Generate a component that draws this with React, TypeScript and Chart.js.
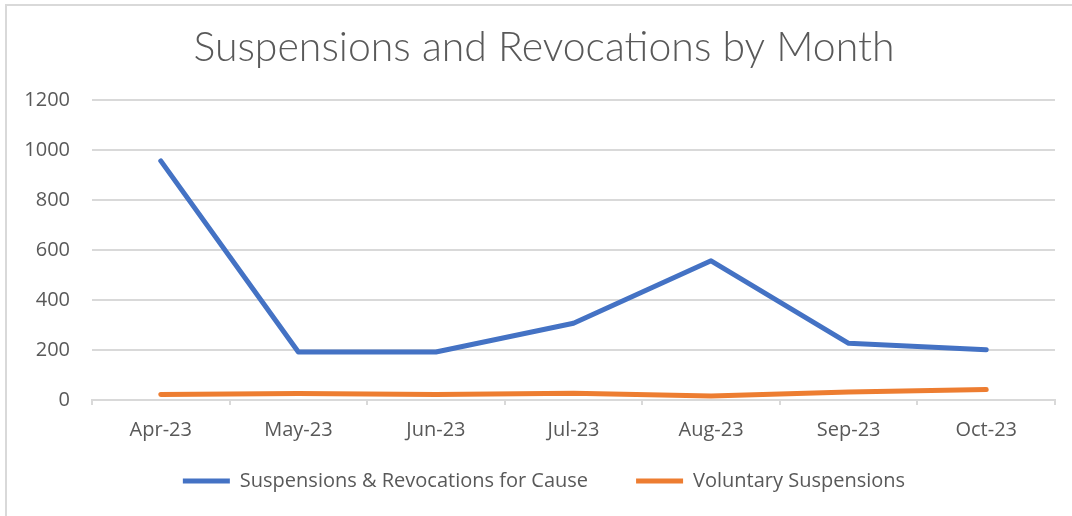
import React, { useEffect, useRef } from "react";
import { Chart, registerables } from "chart.js";

Chart.register(...registerables);

const titleText = "Suspensions and Revocations by Month";
const months = ["Apr-23", "May-23", "Jun-23", "Jul-23", "Aug-23", "Sep-23", "Oct-23"];
const forCauseLabel = "Suspensions & Revocations for Cause";
const forCause = [957, 192, 192, 307, 557, 227, 201];
const voluntaryLabel = "Voluntary Suspensions";
const voluntary = [22, 26, 22, 27, 16, 32, 42];
const yMin = 0;
const yMax = 1200;
const yStep = 200;

const TEXT = "#595959";
const GRID = "#d9d9d9";

// Widen the tick-label clip regions after layout so labels are not cut off.
const unclipLabels = {
  id: "unclipLabels",
  afterLayout(chart: any) {
    const y = chart.scales.y;
    const x = chart.scales.x;
    if (y) y.left = 0;
    if (x) x.bottom = x.top + 60;
  },
};

export default function App() {
  const ref = useRef<HTMLCanvasElement | null>(null);

  useEffect(() => {
    if (!ref.current) return;
    const chart = new Chart(ref.current, {
      type: "line",
      data: {
        labels: months,
        datasets: [
          {
            label: forCauseLabel,
            data: forCause,
            borderColor: "#4472C4",
            backgroundColor: "#4472C4",
            borderWidth: 5,
            borderCapStyle: "round",
            borderJoinStyle: "round",
            pointRadius: 0,
            tension: 0,
            fill: false,
          },
          {
            label: voluntaryLabel,
            data: voluntary,
            borderColor: "#ED7D31",
            backgroundColor: "#ED7D31",
            borderWidth: 5,
            borderCapStyle: "round",
            borderJoinStyle: "round",
            pointRadius: 0,
            tension: 0,
            fill: false,
          },
        ],
      },
      options: {
        responsive: false,
        animation: false,
        devicePixelRatio: 1,
        layout: { padding: { left: 33, right: 17, top: 0, bottom: 15 } },
        plugins: {
          title: {
            display: true,
            text: titleText,
            color: TEXT,
            font: { family: "Lato", size: 41, weight: "300", lineHeight: 1.2 },
            padding: { top: 23, bottom: 28 },
          },
          legend: {
            position: "bottom",
            labels: {
              color: TEXT,
              font: { family: "'Open Sans'", size: 20 },
              usePointStyle: true,
              pointStyle: "line",
              pointStyleWidth: 47,
              padding: 48,
            },
          },
          tooltip: { enabled: false },
        },
        scales: {
          x: {
            offset: true,
            grid: {
              offset: true,
              drawOnChartArea: false,
              drawTicks: true,
              tickLength: 5,
              color: GRID,
              lineWidth: 2,
            },
            border: { display: true, color: GRID, width: 2 },
            ticks: {
              color: TEXT,
              font: { family: "'Open Sans'", size: 20 },
              padding: 13,
              maxRotation: 0,
              autoSkip: false,
            },
            afterFit: (scale: any) => {
              scale.height = 23;
            },
          },
          y: {
            min: yMin,
            max: yMax,
            grid: { color: GRID, lineWidth: 2, drawTicks: false },
            border: { display: false },
            ticks: {
              stepSize: yStep,
              color: TEXT,
              font: { family: "'Open Sans'", size: 20 },
              padding: 22,
              callback: (value: any) => String(value),
            },
            afterFit: (scale: any) => {
              scale.width = 59;
            },
          },
        },
      },
      plugins: [unclipLabels],
    });
    return () => chart.destroy();
  }, []);

  return (
    <div
      style={{
        position: "absolute",
        left: 0,
        top: 0,
        width: 1072,
        height: 516,
        overflow: "hidden",
        background: "#ffffff",
      }}
    >
      <div
        style={{
          position: "absolute",
          left: 5,
          top: 4,
          width: 1200,
          height: 700,
          borderLeft: `2px solid ${GRID}`,
          borderTop: `2px solid ${GRID}`,
          boxSizing: "border-box",
        }}
      />
      <canvas
        ref={ref}
        width={1072}
        height={516}
        style={{ position: "absolute", left: 0, top: 0 }}
      />
    </div>
  );
}
